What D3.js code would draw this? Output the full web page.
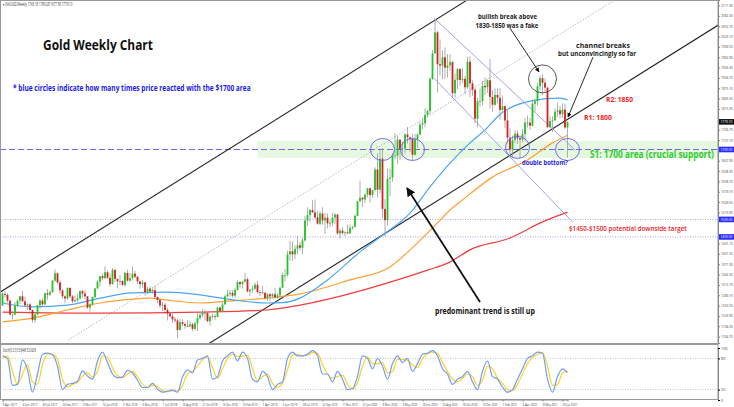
<!DOCTYPE html>
<html><head><meta charset="utf-8">
<script src="https://cdn.jsdelivr.net/npm/d3@7"></script>
<style>body{margin:0;background:#fff;}svg{display:block;font-family:"Open Sans",sans-serif;}</style>
</head><body><svg id="c" width="734" height="407"></svg>
<script>
// ---------- DATA ----------
const dateLabels = ["9 Apr 2017","4 Jun 2017","30 Jul 2017","24 Sep 2017","19 Nov 2017","14 Jan 2018","11 Mar 2018","6 May 2018","1 Jul 2018","26 Aug 2018","21 Oct 2018","16 Dec 2018","10 Feb 2019","7 Apr 2019","2 Jun 2019","28 Jul 2019","22 Sep 2019","17 Nov 2019","12 Jan 2020","8 Mar 2020","3 May 2020","28 Jun 2020","23 Aug 2020","18 Oct 2020","13 Dec 2020","7 Feb 2021","4 Apr 2021","30 May 2021","25 Jul 2021"];
const dateLabelIdx = [0,8,16,24,32,40,48,56,64,72,80,88,96,104,112,120,128,136,144,152,160,168,176,184,192,200,208,216,224];

const opens = [1254,1287,1284,1268,1228,1228,1254,1268,1280,1266,1254,1257,1241,1212,1228,1254,1268,1257,1289,1285,1292,1325,1346,1320,1297,1280,1274,1304,1280,1266,1269,1274,1295,1288,1280,1248,1257,1278,1303,
1322,1338,1332,1349,1333,1315,1356,1330,1323,1324,1313,1347,1325,1332,1345,1336,1323,1315,1320,1292,1302,1294,1298,1278,1270,1254,1256,1241,1231,1223,1214,1211,1184,1206,1201,1196,1194,1200,1187,1203,1218,1227,1233,1233,1209,1222,1223,1221,1248,1238,1257,1280,
1287,1290,1282,1298,1321,1315,1322,1329,1294,1299,1302,1313,1292,1291,1290,1275,1286,1280,1286,1277,1283,1305,1341,1341,1400,1409,1400,1416,1426,1419,1440,1497,1513,1527,1520,1506,1488,1517,1497,1505,1489,1490,1505,1514,1460,1468,1461,1463,1460,1476,1479,1510,
1552,1562,1557,1571,1589,1570,1584,1643,1585,1674,1530,1498,1617,1620,1683,1683,1728,1700,1703,1743,1735,1730,1685,1729,1743,1771,1775,1799,1810,1902,1975,2035,1944,1940,1964,1934,1941,1950,1861,1899,1930,1899,1902,1878,1951,1889,1871,1788,1838,1839,1882,1878,
1898,1850,1828,1856,1848,1813,1824,1783,1734,1700,1727,1745,1732,1728,1744,1777,1777,1768,1831,1838,1881,1904,1891,1877,1764,1781,1783,1808,1812,1801,1814,1763];
const highs = [1292,1295,1289,1270,1237,1264,1270,1281,1296,1279,1260,1260,1242,1234,1256,1272,1275,1290,1301,1298,1326,1357,1348,1326,1300,1283,1306,1306,1284,1283,1288,1297,1298,1299,1281,1260,1279,1298,1326,
1338,1345,1366,1354,1346,1361,1356,1331,1341,1326,1350,1356,1346,1366,1353,1338,1326,1327,1321,1307,1309,1303,1310,1280,1273,1265,1262,1246,1236,1235,1221,1217,1215,1214,1206,1212,1210,1204,1208,1233,1233,1243,1243,1237,1226,1231,1229,1250,1251,1262,1284,1299,
1298,1298,1304,1326,1323,1324,1347,1333,1301,1311,1320,1324,1298,1310,1293,1290,1290,1289,1304,1289,1306,1348,1359,1411,1439,1437,1426,1453,1435,1448,1510,1535,1530,1555,1557,1524,1524,1535,1519,1517,1498,1518,1518,1516,1474,1478,1466,1485,1485,1481,1515,1553,
1611,1564,1575,1589,1591,1584,1649,1689,1703,1704,1558,1645,1645,1690,1747,1739,1730,1722,1747,1765,1735,1745,1744,1745,1779,1789,1818,1814,1907,1984,2075,2039,2015,1984,1992,1973,1973,1954,1917,1933,1933,1933,1911,1965,1966,1898,1876,1848,1875,1896,1906,1900,
1959,1870,1875,1875,1875,1855,1827,1816,1760,1740,1755,1755,1740,1759,1790,1797,1790,1843,1845,1890,1912,1916,1903,1878,1795,1795,1818,1834,1825,1832,1831,1780];
const lows = [1253,1277,1262,1225,1214,1226,1249,1258,1265,1250,1241,1236,1205,1204,1227,1245,1251,1255,1270,1281,1290,1322,1315,1288,1274,1260,1270,1275,1261,1263,1264,1270,1277,1271,1244,1236,1253,1275,1301,
1308,1325,1329,1330,1307,1314,1321,1303,1312,1309,1307,1322,1322,1326,1333,1315,1302,1305,1282,1286,1293,1288,1275,1260,1246,1238,1236,1211,1219,1204,1205,1160,1182,1195,1187,1192,1193,1180,1182,1181,1213,1221,1211,1206,1196,1214,1212,1221,1236,1235,1256,1278,
1279,1277,1276,1297,1303,1302,1320,1291,1281,1290,1298,1287,1281,1289,1270,1267,1266,1274,1274,1273,1274,1304,1323,1337,1382,1381,1386,1400,1411,1400,1437,1481,1492,1519,1502,1485,1484,1485,1459,1474,1477,1480,1486,1457,1445,1456,1452,1458,1459,1470,1477,1509,
1549,1536,1546,1563,1548,1562,1580,1563,1575,1504,1451,1483,1567,1608,1672,1659,1670,1682,1689,1717,1693,1670,1683,1705,1741,1758,1763,1792,1801,1899,1975,1863,1911,1902,1902,1906,1925,1848,1848,1873,1883,1890,1859,1874,1850,1853,1775,1764,1823,1826,1855,1862,
1817,1808,1825,1831,1785,1808,1761,1717,1687,1676,1718,1716,1677,1721,1723,1763,1756,1766,1808,1825,1869,1855,1866,1761,1761,1750,1782,1792,1789,1789,1759,1677];
const closes = [1288,1284,1268,1228,1228,1254,1268,1280,1266,1254,1257,1241,1212,1228,1254,1268,1257,1289,1285,1292,1325,1346,1320,1297,1280,1274,1304,1280,1266,1269,1274,1295,1288,1280,1248,1257,1278,1303,1322,
1338,1332,1349,1333,1315,1356,1330,1323,1324,1313,1347,1325,1332,1345,1336,1323,1315,1320,1292,1302,1294,1298,1278,1270,1254,1256,1241,1231,1223,1214,1211,1184,1206,1201,1196,1194,1200,1187,1203,1218,1227,1233,1233,1209,1222,1223,1221,1248,1238,1257,1280,1287,
1290,1282,1298,1321,1315,1322,1329,1294,1299,1302,1313,1292,1291,1290,1275,1286,1280,1286,1277,1283,1305,1341,1341,1400,1409,1400,1416,1426,1419,1440,1497,1513,1527,1520,1506,1488,1517,1497,1505,1489,1490,1505,1514,1460,1468,1461,1463,1460,1476,1479,1510,1552,
1562,1557,1571,1589,1570,1584,1643,1585,1674,1530,1498,1617,1620,1683,1683,1728,1700,1703,1743,1735,1730,1685,1729,1743,1771,1775,1799,1810,1902,1975,2035,1944,1940,1964,1934,1941,1950,1861,1899,1930,1899,1902,1878,1951,1889,1871,1788,1838,1839,1882,1878,1898,
1850,1828,1856,1848,1813,1824,1783,1734,1700,1727,1745,1732,1728,1744,1777,1777,1768,1831,1838,1881,1904,1891,1877,1764,1781,1783,1808,1812,1801,1814,1763,1779];

// moving averages: [week index, price]
const maBlue = [[0,1261],[12,1250],[26,1255],[39,1275],[52,1290],[66,1292],[79,1284],[92,1270],[106,1261],[112,1262],[119,1275],[130,1327],[144,1413],[152,1455],[163,1518],[171,1593],[179,1661],[187,1719],[193,1756],[199,1800],[212,1840],[223,1847],[226,1842]];
const maOrange = [[0,1207],[12,1218],[26,1241],[39,1261],[52,1272],[59,1275],[66,1269],[79,1261],[92,1267],[106,1275],[119,1287],[139,1327],[155,1364],[163,1413],[166,1433],[174,1490],[179,1527],[183,1550],[196,1621],[210,1670],[220,1719],[226,1741]];
const maRed = [[0,1235],[39,1232],[79,1235],[106,1241],[119,1255],[158,1327],[170,1355],[179,1378],[187,1413],[203,1447],[216,1493],[226,1521]];

// stochastic (5,3,3), sampled every 2 weeks (index 0,2,4,...)
const stochK = [85,80,28,30,77,58,15,50,88,90,87,65,20,30,32,36,56,46,40,75,92,72,50,43,44,57,52,38,24,24,32,21,15,17,19,15,44,58,52,77,80,85,40,45,75,85,92,75,92,80,40,35,55,45,20,30,35,80,92,85,85,88,95,85,50,50,35,55,40,20,22,45,85,80,60,80,65,40,70,85,72,80,55,70,88,90,95,85,60,50,30,40,45,55,35,20,55,75,45,40,25,15,20,40,60,80,85,92,90,40,15,45,60,52];
const stochD = [80,85,55,30,50,68,35,30,68,88,88,78,40,25,30,34,46,52,44,55,85,82,62,47,43,50,55,45,30,24,28,26,18,16,18,17,28,50,55,65,78,83,62,42,60,80,88,84,84,86,60,38,45,50,32,25,32,58,86,88,85,86,91,90,68,50,42,45,48,30,21,33,65,83,70,70,72,52,55,78,78,76,68,62,80,89,92,90,72,55,40,35,42,50,45,28,38,65,60,42,32,20,18,30,50,70,82,88,91,65,28,30,52,56];

const priceTicks = [2111.95,2082.35,2052.75,2023.15,1993.55,1963.95,1934.35,1904.75,1875.15,1845.55,1815.95,1756.75,1727.15,1667.95,1638.35,1608.75,1579.15,1549.55,1519.95,1431.15,1401.55,1371.95,1342.35,1312.75,1283.15,1253.55,1223.95,1194.35,1164.75];
const stochTicks = [100,80,20,0];
const levels = {support:1700, t1:1500, t2:1450};
const lastPrice = 1779.10;

// ---------- DRAW ----------
const svg = d3.select("#c");
const PR = 718; // plot right edge
const x = d3.scaleLinear().domain([0,226]).range([2.5,567.5]);
const y = d3.scaleLinear().domain([1146.6,2127.6]).range([343,0]);
const ys = d3.scaleLinear().domain([0,100]).range([400,348]);

svg.append("rect").attr("width",734).attr("height",407).attr("fill","#fff");

// text whose natural width equals the wanted width (height kept by a vertical scale)
function fitText(s,px,py,size,fill,len,opts={}){
  const t = svg.append("text").attr("font-family",opts.family||"Open Sans").attr("font-weight",opts.weight||"bold")
    .attr("font-size",size).attr("fill",fill).attr("text-anchor",opts.anchor||"start").text(s);
  const w = t.node().getComputedTextLength();
  const fs = size*len/w;
  t.attr("font-size",fs).attr("transform",`translate(${px},${py}) scale(1,${(size/fs).toFixed(4)})`);
  return t;
}

const defs = svg.append("defs");
defs.append("clipPath").attr("id","clipMain").append("rect").attr("x",0).attr("y",0).attr("width",PR).attr("height",343);
defs.append("marker").attr("id","arr").attr("viewBox","0 0 10 10").attr("refX",9).attr("refY",5)
  .attr("markerWidth",5).attr("markerHeight",5).attr("orient","auto")
  .append("path").attr("d","M0,0L10,5L0,10z").attr("fill","#111");

const main = svg.append("g").attr("clip-path","url(#clipMain)");

// green support band
main.append("rect").attr("x",x(102)).attr("width",PR-x(102))
  .attr("y",y(1724)).attr("height",y(1676)-y(1724)).attr("fill","#e6f8e0");

// horizontal levels
main.append("line").attr("x1",0).attr("x2",PR).attr("y1",y(levels.support)).attr("y2",y(levels.support))
  .attr("stroke","#6a6ae8").attr("stroke-width",1).attr("stroke-dasharray","6,3");
[levels.t1,levels.t2].forEach(v=>{
  main.append("line").attr("x1",0).attr("x2",PR).attr("y1",y(v)).attr("y2",y(v))
    .attr("stroke","#8c8cf0").attr("stroke-width",0.8).attr("stroke-dasharray","1,1.5");
});

// trend channel lines (data coordinates)
const tl = (pts,stroke,w,dash)=>main.append("line")
  .attr("x1",x(pts[0][0])).attr("y1",y(pts[0][1])).attr("x2",x(pts[1][0])).attr("y2",y(pts[1][1]))
  .attr("stroke",stroke).attr("stroke-width",w).attr("stroke-dasharray",dash||null);
tl([[-1,1292],[186,2128]],"#222",1.1);
tl([[79,1129],[287,2059]],"#222",1.1);
tl([[26.2,1155],[245,2128]],"#aaa",0.8,"1.5,1.5");
tl([[172.6,2076],[229,1699]],"#a0a0f0",1);
tl([[172.6,1904],[228,1493]],"#a0a0f0",1);

// moving averages
const maLine = d3.line().x(d=>x(d[0])).y(d=>y(d[1])).curve(d3.curveMonotoneX);
main.append("path").datum(maRed).attr("d",maLine).attr("fill","none").attr("stroke","#f03c3c").attr("stroke-width",1.2);
main.append("path").datum(maOrange).attr("d",maLine).attr("fill","none").attr("stroke","#ffa030").attr("stroke-width",1.2);
main.append("path").datum(maBlue).attr("d",maLine).attr("fill","none").attr("stroke","#4aa6f2").attr("stroke-width",1.2);

// candles
const idx = d3.range(closes.length);
main.selectAll("line.wick").data(idx).join("line").attr("class","wick")
  .attr("x1",i=>x(i)).attr("x2",i=>x(i)).attr("y1",i=>y(highs[i])).attr("y2",i=>y(lows[i]))
  .attr("stroke","#9a9a9a").attr("stroke-width",0.8);
main.selectAll("rect.body").data(idx).join("rect").attr("class","body")
  .attr("x",i=>x(i)-0.9).attr("width",1.8)
  .attr("y",i=>y(Math.max(opens[i],closes[i])))
  .attr("height",i=>Math.max(0.8,Math.abs(y(opens[i])-y(closes[i]))))
  .attr("fill",i=>closes[i]>=opens[i]?"#22c422":"#d42020");

// circles
[[152,1700],[164,1700],[206,1706],[226,1700]].forEach(c=>{
  main.append("ellipse").attr("cx",x(c[0])).attr("cy",y(c[1])).attr("rx",12).attr("ry",11)
    .attr("fill","none").attr("stroke","#6b6be8").attr("stroke-width",1);
});
main.append("circle").attr("cx",x(216)).attr("cy",y(1902)).attr("r",14)
  .attr("fill","none").attr("stroke","#444").attr("stroke-width",0.9);

// arrows
const arrow = (a,b,w)=>main.append("line").attr("x1",x(a[0])).attr("y1",y(a[1])).attr("x2",x(b[0])).attr("y2",y(b[1]))
  .attr("stroke","#111").attr("stroke-width",w).attr("marker-end","url(#arr)");
arrow([203,2047],[214.6,1922],0.9);
arrow([236.2,1964],[226.2,1793],0.9);
arrow([191,1264],[161.8,1590],1.8);

// annotation texts
fitText("Gold Weekly Chart",43,50,14.5,"#111",110);
fitText("* blue circles indicate how many times price reacted with the $1700 area",13,91,8,"#1a1aee",238);
fitText("bullish break above",507.5,18.5,7,"#222",59,{anchor:"middle"});
fitText("1830-1850 was a fake",507,28,7,"#222",63,{anchor:"middle"});
fitText("channel breaks",603,47.5,7,"#222",54,{anchor:"middle"});
fitText("but unconvincingly so far",597,56,7,"#222",78,{anchor:"middle"});
fitText("R2: 1850",606,101.5,7.5,"#ee2222",27);
fitText("R1: 1800",584,120,7.5,"#ee2222",28);
fitText("S1: 1700 area (crucial support)",590,157.5,10,"#2ecc2e",124);
fitText("double bottom?",522,164.5,6.5,"#2424e0",46);
fitText("$1450-$1500 potential downside target",569,231,7.5,"#ee2222",118,{weight:"600"});
fitText("predominant trend is still up",435,314,8,"#111",100);
fitText("▾ XAUUSD,Weekly  1763.18 1780.28 1677.58 1779.10",3,6,4.5,"#333",70,{weight:"normal"});

// panel frames
svg.append("line").attr("x1",0).attr("x2",PR).attr("y1",344).attr("y2",344).attr("stroke","#9a9a9a").attr("stroke-width",2);
svg.append("rect").attr("x",0.5).attr("y",0.5).attr("width",PR-0.5).attr("height",399).attr("fill","none").attr("stroke","#999").attr("stroke-width",1);

// right price axis
const ax = svg.append("g").attr("transform",`translate(${PR},0)`)
  .call(d3.axisRight(y).tickValues(priceTicks).tickSize(2).tickFormat(""));
ax.select(".domain").attr("stroke","#888");
ax.selectAll("line").attr("stroke","#888");
priceTicks.forEach(v=>fitText(d3.format(".2f")(v),PR+3,y(v)+1.5,4,"#444",12,{weight:"normal"}));
const tag = (v,bg)=>{
  svg.append("rect").attr("x",PR+1).attr("y",y(v)-2.8).attr("width",15).attr("height",5.6).attr("fill",bg);
  fitText(d3.format(".2f")(v),PR+2.5,y(v)+1.5,4,"#fff",12,{weight:"normal"});
};
tag(lastPrice,"#111");
tag(levels.support,"#2a2aff");
tag(levels.t1,"#2a2aff");
tag(levels.t2,"#2a2aff");

// stochastic panel
const stoch = svg.append("g");
[80,20].forEach(v=>stoch.append("line").attr("x1",0).attr("x2",PR).attr("y1",ys(v)).attr("y2",ys(v))
  .attr("stroke","#aaa").attr("stroke-width",0.7).attr("stroke-dasharray","1,1.5"));
const sLine = d3.line().x((d,i)=>x(i*2)).y(d=>ys(d)).curve(d3.curveMonotoneX);
stoch.append("path").datum(stochD).attr("d",sLine).attr("fill","none").attr("stroke","#ffd21e").attr("stroke-width",1.2);
stoch.append("path").datum(stochK).attr("d",sLine).attr("fill","none").attr("stroke","#6e9cff").attr("stroke-width",1.2);
fitText("Stoch(5,3,3) 53.8448 52.0209",3,352,4.5,"#333",33,{weight:"normal"});
const sax = svg.append("g").attr("transform",`translate(${PR},0)`)
  .call(d3.axisRight(ys).tickValues(stochTicks).tickSize(2).tickFormat(""));
sax.select(".domain").attr("stroke","#888");
stochTicks.forEach(v=>fitText(String(v),PR+3,ys(v)+1.5,4,"#444",String(v).length*2.2,{weight:"normal"}));

// bottom time axis
const bx = svg.append("g").attr("transform","translate(0,399.5)")
  .call(d3.axisBottom(x).tickValues(dateLabelIdx).tickSize(2).tickFormat(""));
bx.select(".domain").attr("stroke","#888");
bx.selectAll("line").attr("stroke","#888");
dateLabelIdx.forEach((d,i)=>fitText(dateLabels[i],x(d),405.5,4,"#444",15,{weight:"normal"}));
</script>
</body></html>
